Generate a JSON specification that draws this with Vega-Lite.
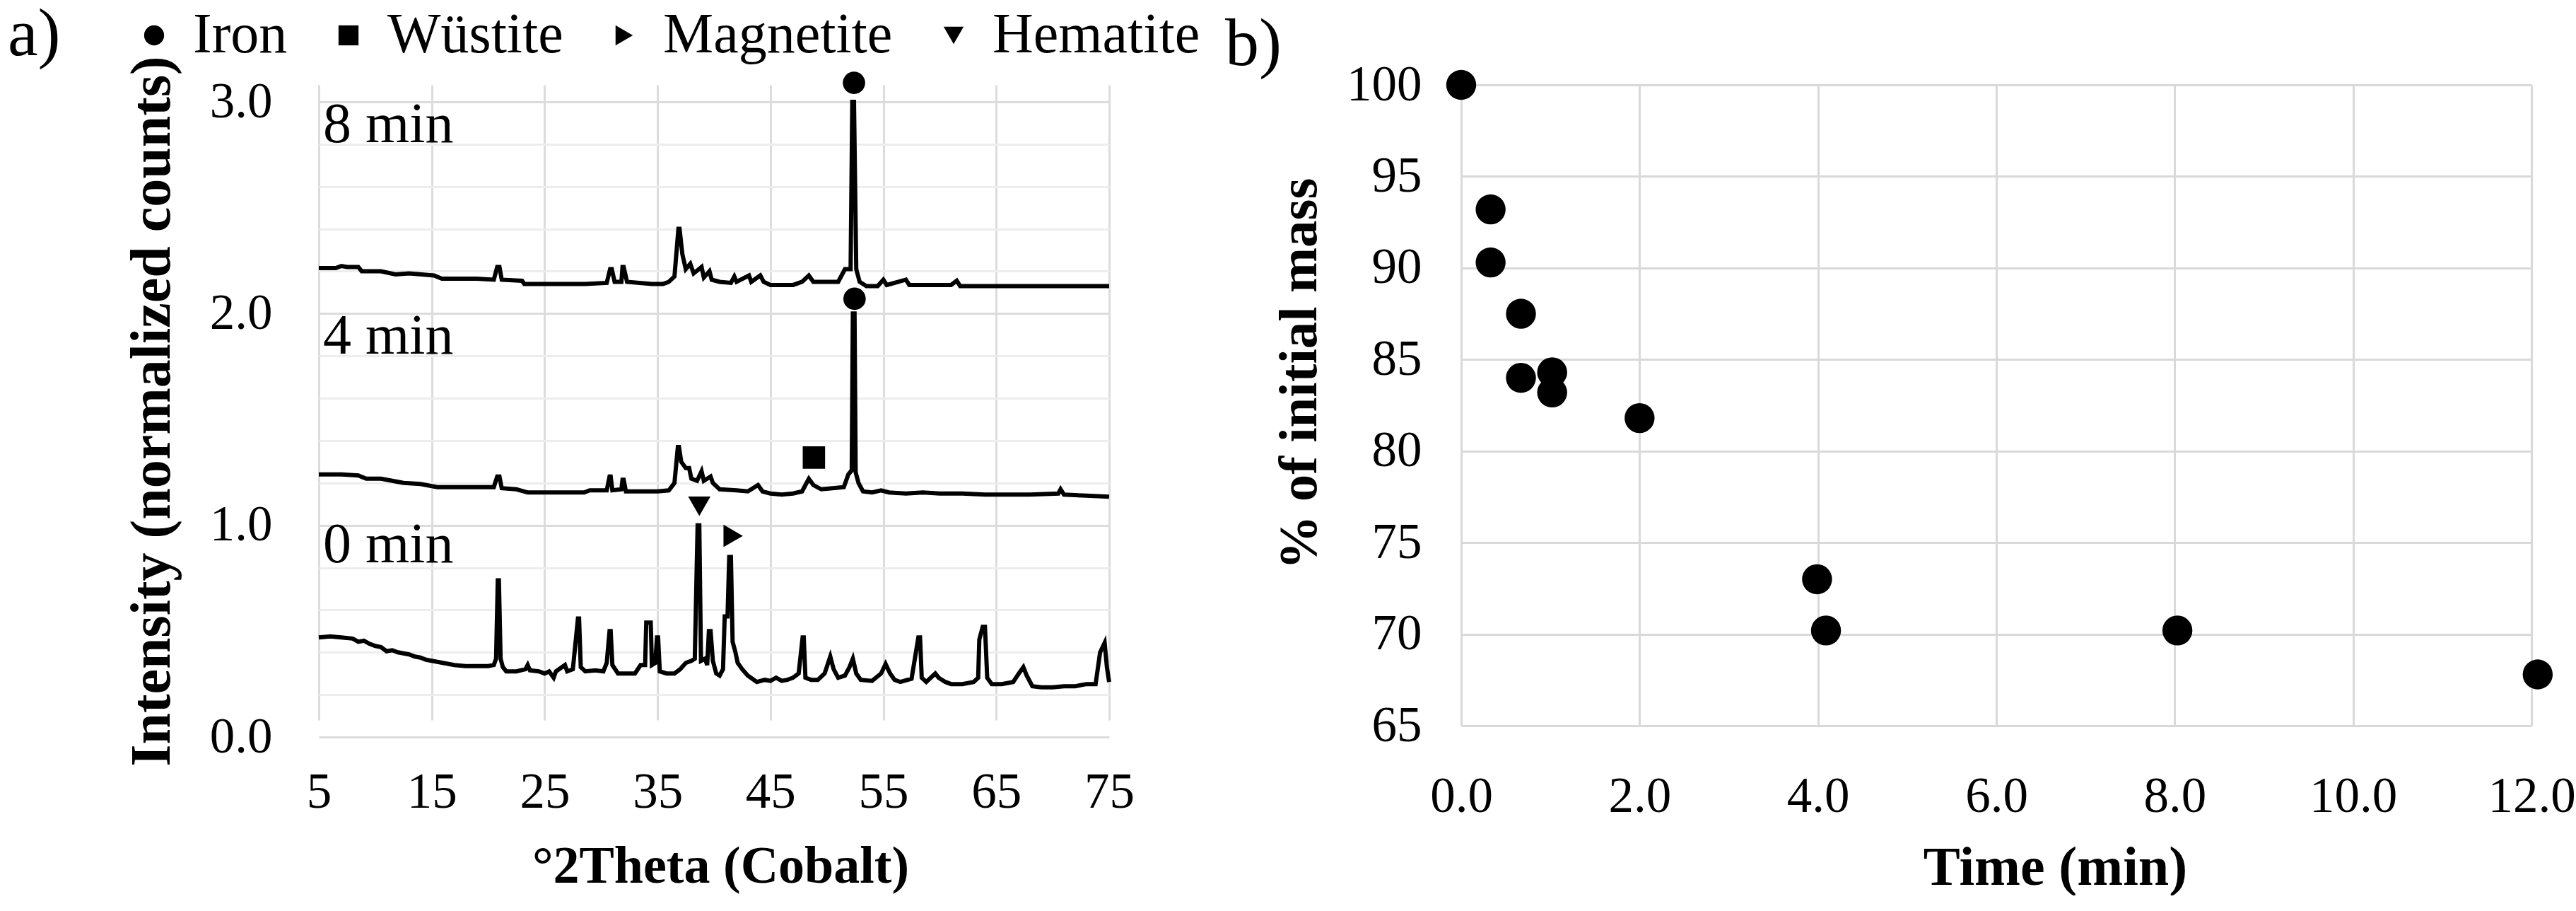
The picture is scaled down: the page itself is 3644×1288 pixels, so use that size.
{
  "$schema": "https://vega.github.io/schema/vega-lite/v6.json",
  "background": "white",
  "padding": {"left": 11, "top": 0, "right": 0, "bottom": 0},
  "spacing": 128,
  "config": {
    "view": {"stroke": null},
    "font": "Liberation Serif",
    "axis": {"labelColor": "black", "titleColor": "black", "labelFont": "Liberation Serif", "titleFont": "Liberation Serif", "ticks": false, "tickSize": 0, "domain": false, "labelFontSize": 71, "titleFontSize": 74, "titleFontWeight": "bold", "gridColor": "#d9d9d9", "gridWidth": 3, "labelOverlap": false, "labelFlush": false, "labelBound": false}
  },
  "datasets": {
    "xrd": [
      {"s":"0 min","x":5.0,"y":0.47},{"s":"0 min","x":6.0,"y":0.475},{"s":"0 min","x":7.0,"y":0.47},{"s":"0 min","x":8.0,"y":0.465},{"s":"0 min","x":8.5,"y":0.45},{"s":"0 min","x":9.0,"y":0.455},{"s":"0 min","x":9.5,"y":0.44},{"s":"0 min","x":10.0,"y":0.43},{"s":"0 min","x":10.5,"y":0.425},{"s":"0 min","x":11.0,"y":0.405},{"s":"0 min","x":11.5,"y":0.41},{"s":"0 min","x":12.0,"y":0.4},{"s":"0 min","x":12.5,"y":0.395},{"s":"0 min","x":13.0,"y":0.39},{"s":"0 min","x":13.5,"y":0.38},{"s":"0 min","x":14.0,"y":0.375},{"s":"0 min","x":14.5,"y":0.365},{"s":"0 min","x":15.0,"y":0.36},{"s":"0 min","x":15.5,"y":0.355},{"s":"0 min","x":16.0,"y":0.35},{"s":"0 min","x":17.0,"y":0.34},{"s":"0 min","x":18.0,"y":0.335},{"s":"0 min","x":19.0,"y":0.335},{"s":"0 min","x":20.0,"y":0.335},{"s":"0 min","x":20.5,"y":0.34},{"s":"0 min","x":20.7,"y":0.37},{"s":"0 min","x":20.85,"y":0.74},{"s":"0 min","x":20.95,"y":0.74},{"s":"0 min","x":21.1,"y":0.37},{"s":"0 min","x":21.3,"y":0.33},{"s":"0 min","x":21.6,"y":0.31},{"s":"0 min","x":22.5,"y":0.31},{"s":"0 min","x":23.3,"y":0.32},{"s":"0 min","x":23.5,"y":0.34},{"s":"0 min","x":23.7,"y":0.315},{"s":"0 min","x":24.5,"y":0.31},{"s":"0 min","x":25.0,"y":0.3},{"s":"0 min","x":25.4,"y":0.31},{"s":"0 min","x":25.8,"y":0.28},{"s":"0 min","x":26.0,"y":0.31},{"s":"0 min","x":26.8,"y":0.34},{"s":"0 min","x":27.0,"y":0.31},{"s":"0 min","x":27.5,"y":0.32},{"s":"0 min","x":27.95,"y":0.56},{"s":"0 min","x":28.05,"y":0.56},{"s":"0 min","x":28.2,"y":0.33},{"s":"0 min","x":28.6,"y":0.31},{"s":"0 min","x":29.5,"y":0.315},{"s":"0 min","x":30.2,"y":0.31},{"s":"0 min","x":30.5,"y":0.35},{"s":"0 min","x":30.75,"y":0.5},{"s":"0 min","x":30.85,"y":0.5},{"s":"0 min","x":31.0,"y":0.34},{"s":"0 min","x":31.5,"y":0.3},{"s":"0 min","x":32.5,"y":0.3},{"s":"0 min","x":33.0,"y":0.3},{"s":"0 min","x":33.5,"y":0.34},{"s":"0 min","x":33.9,"y":0.34},{"s":"0 min","x":34.0,"y":0.54},{"s":"0 min","x":34.4,"y":0.54},{"s":"0 min","x":34.5,"y":0.34},{"s":"0 min","x":34.8,"y":0.35},{"s":"0 min","x":34.95,"y":0.47},{"s":"0 min","x":35.05,"y":0.47},{"s":"0 min","x":35.2,"y":0.31},{"s":"0 min","x":35.8,"y":0.3},{"s":"0 min","x":36.5,"y":0.3},{"s":"0 min","x":37.0,"y":0.32},{"s":"0 min","x":37.5,"y":0.35},{"s":"0 min","x":38.0,"y":0.36},{"s":"0 min","x":38.3,"y":0.37},{"s":"0 min","x":38.55,"y":1.0},{"s":"0 min","x":38.7,"y":1.0},{"s":"0 min","x":38.85,"y":0.36},{"s":"0 min","x":39.2,"y":0.37},{"s":"0 min","x":39.4,"y":0.34},{"s":"0 min","x":39.55,"y":0.5},{"s":"0 min","x":39.7,"y":0.5},{"s":"0 min","x":39.9,"y":0.36},{"s":"0 min","x":40.2,"y":0.3},{"s":"0 min","x":40.5,"y":0.29},{"s":"0 min","x":40.8,"y":0.32},{"s":"0 min","x":40.95,"y":0.57},{"s":"0 min","x":41.2,"y":0.57},{"s":"0 min","x":41.35,"y":0.85},{"s":"0 min","x":41.5,"y":0.85},{"s":"0 min","x":41.65,"y":0.45},{"s":"0 min","x":41.9,"y":0.4},{"s":"0 min","x":42.1,"y":0.35},{"s":"0 min","x":42.5,"y":0.32},{"s":"0 min","x":43.0,"y":0.29},{"s":"0 min","x":43.8,"y":0.26},{"s":"0 min","x":44.5,"y":0.27},{"s":"0 min","x":45.0,"y":0.265},{"s":"0 min","x":45.5,"y":0.28},{"s":"0 min","x":46.0,"y":0.265},{"s":"0 min","x":46.5,"y":0.27},{"s":"0 min","x":47.0,"y":0.28},{"s":"0 min","x":47.5,"y":0.3},{"s":"0 min","x":47.85,"y":0.47},{"s":"0 min","x":47.95,"y":0.47},{"s":"0 min","x":48.1,"y":0.28},{"s":"0 min","x":48.6,"y":0.27},{"s":"0 min","x":49.2,"y":0.27},{"s":"0 min","x":49.8,"y":0.3},{"s":"0 min","x":50.3,"y":0.38},{"s":"0 min","x":50.6,"y":0.32},{"s":"0 min","x":51.0,"y":0.28},{"s":"0 min","x":51.6,"y":0.29},{"s":"0 min","x":52.0,"y":0.33},{"s":"0 min","x":52.3,"y":0.37},{"s":"0 min","x":52.6,"y":0.3},{"s":"0 min","x":53.0,"y":0.27},{"s":"0 min","x":54.0,"y":0.265},{"s":"0 min","x":54.8,"y":0.3},{"s":"0 min","x":55.2,"y":0.345},{"s":"0 min","x":55.6,"y":0.3},{"s":"0 min","x":56.0,"y":0.27},{"s":"0 min","x":56.5,"y":0.26},{"s":"0 min","x":57.5,"y":0.275},{"s":"0 min","x":58.1,"y":0.47},{"s":"0 min","x":58.25,"y":0.47},{"s":"0 min","x":58.4,"y":0.28},{"s":"0 min","x":58.8,"y":0.26},{"s":"0 min","x":59.6,"y":0.3},{"s":"0 min","x":59.9,"y":0.28},{"s":"0 min","x":60.5,"y":0.26},{"s":"0 min","x":61.0,"y":0.25},{"s":"0 min","x":62.0,"y":0.25},{"s":"0 min","x":63.0,"y":0.26},{"s":"0 min","x":63.4,"y":0.28},{"s":"0 min","x":63.5,"y":0.46},{"s":"0 min","x":63.8,"y":0.52},{"s":"0 min","x":64.0,"y":0.52},{"s":"0 min","x":64.2,"y":0.28},{"s":"0 min","x":64.6,"y":0.25},{"s":"0 min","x":65.5,"y":0.25},{"s":"0 min","x":66.5,"y":0.26},{"s":"0 min","x":67.0,"y":0.3},{"s":"0 min","x":67.4,"y":0.33},{"s":"0 min","x":67.7,"y":0.29},{"s":"0 min","x":68.2,"y":0.24},{"s":"0 min","x":69.0,"y":0.235},{"s":"0 min","x":70.0,"y":0.235},{"s":"0 min","x":71.0,"y":0.24},{"s":"0 min","x":72.0,"y":0.24},{"s":"0 min","x":73.0,"y":0.25},{"s":"0 min","x":73.8,"y":0.25},{"s":"0 min","x":74.2,"y":0.4},{"s":"0 min","x":74.6,"y":0.445},{"s":"0 min","x":74.8,"y":0.33},{"s":"0 min","x":75.0,"y":0.26},
      {"s":"4 min","x":5.0,"y":1.24},{"s":"4 min","x":7.0,"y":1.24},{"s":"4 min","x":8.5,"y":1.235},{"s":"4 min","x":9.2,"y":1.22},{"s":"4 min","x":10.5,"y":1.22},{"s":"4 min","x":11.5,"y":1.21},{"s":"4 min","x":12.5,"y":1.2},{"s":"4 min","x":14.0,"y":1.195},{"s":"4 min","x":15.5,"y":1.18},{"s":"4 min","x":17.0,"y":1.18},{"s":"4 min","x":19.0,"y":1.18},{"s":"4 min","x":20.5,"y":1.18},{"s":"4 min","x":20.8,"y":1.23},{"s":"4 min","x":21.0,"y":1.23},{"s":"4 min","x":21.2,"y":1.175},{"s":"4 min","x":22.5,"y":1.17},{"s":"4 min","x":23.5,"y":1.155},{"s":"4 min","x":25.0,"y":1.155},{"s":"4 min","x":27.0,"y":1.155},{"s":"4 min","x":28.5,"y":1.155},{"s":"4 min","x":29.0,"y":1.165},{"s":"4 min","x":30.5,"y":1.165},{"s":"4 min","x":30.75,"y":1.23},{"s":"4 min","x":30.85,"y":1.23},{"s":"4 min","x":31.0,"y":1.165},{"s":"4 min","x":31.8,"y":1.17},{"s":"4 min","x":31.9,"y":1.215},{"s":"4 min","x":32.0,"y":1.215},{"s":"4 min","x":32.2,"y":1.16},{"s":"4 min","x":33.5,"y":1.16},{"s":"4 min","x":35.0,"y":1.16},{"s":"4 min","x":36.0,"y":1.165},{"s":"4 min","x":36.5,"y":1.2},{"s":"4 min","x":36.8,"y":1.37},{"s":"4 min","x":36.9,"y":1.37},{"s":"4 min","x":37.1,"y":1.3},{"s":"4 min","x":37.5,"y":1.27},{"s":"4 min","x":37.8,"y":1.27},{"s":"4 min","x":38.0,"y":1.22},{"s":"4 min","x":38.5,"y":1.21},{"s":"4 min","x":38.9,"y":1.255},{"s":"4 min","x":39.1,"y":1.21},{"s":"4 min","x":39.7,"y":1.23},{"s":"4 min","x":39.9,"y":1.2},{"s":"4 min","x":40.5,"y":1.17},{"s":"4 min","x":42.0,"y":1.165},{"s":"4 min","x":43.0,"y":1.16},{"s":"4 min","x":43.9,"y":1.19},{"s":"4 min","x":44.3,"y":1.16},{"s":"4 min","x":45.0,"y":1.15},{"s":"4 min","x":46.0,"y":1.145},{"s":"4 min","x":47.0,"y":1.15},{"s":"4 min","x":47.8,"y":1.16},{"s":"4 min","x":48.4,"y":1.22},{"s":"4 min","x":48.8,"y":1.19},{"s":"4 min","x":49.5,"y":1.17},{"s":"4 min","x":50.5,"y":1.175},{"s":"4 min","x":51.5,"y":1.18},{"s":"4 min","x":51.9,"y":1.24},{"s":"4 min","x":52.2,"y":1.26},{"s":"4 min","x":52.3,"y":2.0},{"s":"4 min","x":52.45,"y":2.0},{"s":"4 min","x":52.55,"y":1.25},{"s":"4 min","x":52.8,"y":1.2},{"s":"4 min","x":53.2,"y":1.16},{"s":"4 min","x":54.0,"y":1.155},{"s":"4 min","x":54.8,"y":1.165},{"s":"4 min","x":55.5,"y":1.155},{"s":"4 min","x":57.0,"y":1.15},{"s":"4 min","x":58.5,"y":1.155},{"s":"4 min","x":60.0,"y":1.15},{"s":"4 min","x":62.0,"y":1.15},{"s":"4 min","x":64.0,"y":1.145},{"s":"4 min","x":66.0,"y":1.145},{"s":"4 min","x":68.0,"y":1.145},{"s":"4 min","x":70.5,"y":1.15},{"s":"4 min","x":70.7,"y":1.17},{"s":"4 min","x":71.0,"y":1.145},{"s":"4 min","x":73.0,"y":1.14},{"s":"4 min","x":75.0,"y":1.135},
      {"s":"8 min","x":5.0,"y":2.215},{"s":"8 min","x":6.5,"y":2.215},{"s":"8 min","x":7.0,"y":2.225},{"s":"8 min","x":7.5,"y":2.22},{"s":"8 min","x":8.5,"y":2.22},{"s":"8 min","x":8.8,"y":2.2},{"s":"8 min","x":10.5,"y":2.2},{"s":"8 min","x":11.8,"y":2.185},{"s":"8 min","x":13.0,"y":2.19},{"s":"8 min","x":15.2,"y":2.18},{"s":"8 min","x":15.9,"y":2.165},{"s":"8 min","x":19.0,"y":2.165},{"s":"8 min","x":20.5,"y":2.16},{"s":"8 min","x":20.8,"y":2.22},{"s":"8 min","x":21.0,"y":2.22},{"s":"8 min","x":21.2,"y":2.16},{"s":"8 min","x":23.0,"y":2.155},{"s":"8 min","x":23.2,"y":2.14},{"s":"8 min","x":28.6,"y":2.14},{"s":"8 min","x":30.5,"y":2.145},{"s":"8 min","x":30.8,"y":2.21},{"s":"8 min","x":30.95,"y":2.21},{"s":"8 min","x":31.2,"y":2.15},{"s":"8 min","x":31.8,"y":2.15},{"s":"8 min","x":31.9,"y":2.22},{"s":"8 min","x":32.0,"y":2.22},{"s":"8 min","x":32.3,"y":2.15},{"s":"8 min","x":34.5,"y":2.14},{"s":"8 min","x":35.5,"y":2.14},{"s":"8 min","x":36.0,"y":2.15},{"s":"8 min","x":36.5,"y":2.175},{"s":"8 min","x":36.85,"y":2.4},{"s":"8 min","x":36.95,"y":2.4},{"s":"8 min","x":37.2,"y":2.28},{"s":"8 min","x":37.5,"y":2.21},{"s":"8 min","x":37.9,"y":2.235},{"s":"8 min","x":38.2,"y":2.19},{"s":"8 min","x":38.9,"y":2.22},{"s":"8 min","x":39.1,"y":2.17},{"s":"8 min","x":39.6,"y":2.2},{"s":"8 min","x":39.8,"y":2.16},{"s":"8 min","x":40.5,"y":2.15},{"s":"8 min","x":41.5,"y":2.145},{"s":"8 min","x":41.8,"y":2.175},{"s":"8 min","x":42.0,"y":2.15},{"s":"8 min","x":43.1,"y":2.18},{"s":"8 min","x":43.3,"y":2.15},{"s":"8 min","x":44.1,"y":2.18},{"s":"8 min","x":44.4,"y":2.15},{"s":"8 min","x":45.0,"y":2.135},{"s":"8 min","x":47.0,"y":2.135},{"s":"8 min","x":47.8,"y":2.15},{"s":"8 min","x":48.4,"y":2.18},{"s":"8 min","x":48.8,"y":2.15},{"s":"8 min","x":51.0,"y":2.15},{"s":"8 min","x":51.6,"y":2.21},{"s":"8 min","x":52.1,"y":2.21},{"s":"8 min","x":52.25,"y":3.0},{"s":"8 min","x":52.4,"y":3.0},{"s":"8 min","x":52.6,"y":2.21},{"s":"8 min","x":52.9,"y":2.15},{"s":"8 min","x":53.5,"y":2.13},{"s":"8 min","x":54.5,"y":2.13},{"s":"8 min","x":55.0,"y":2.16},{"s":"8 min","x":55.3,"y":2.135},{"s":"8 min","x":57.0,"y":2.16},{"s":"8 min","x":57.3,"y":2.135},{"s":"8 min","x":61.0,"y":2.135},{"s":"8 min","x":61.5,"y":2.155},{"s":"8 min","x":61.8,"y":2.13},{"s":"8 min","x":65.0,"y":2.13},{"s":"8 min","x":70.0,"y":2.13},{"s":"8 min","x":75.0,"y":2.13}
    ],
    "markers": [
      {"phase":"Iron","x":52.4,"y":3.09},
      {"phase":"Iron","x":52.45,"y":2.07},
      {"phase":"Wüstite","x":48.85,"y":1.32},
      {"phase":"Magnetite","x":41.7,"y":0.95},
      {"phase":"Hematite","x":38.7,"y":1.09}
    ],
    "labels": [
      {"label":"8 min","x":5,"y":2.89},
      {"label":"4 min","x":5,"y":1.89},
      {"label":"0 min","x":5,"y":0.905}
    ],
    "mass": [
      {"time":0.0,"mass":100.0},
      {"time":0.33,"mass":93.2},
      {"time":0.33,"mass":90.3},
      {"time":0.67,"mass":87.5},
      {"time":0.67,"mass":84.0},
      {"time":1.02,"mass":84.3},
      {"time":1.02,"mass":83.2},
      {"time":2.0,"mass":81.8},
      {"time":3.99,"mass":73.0},
      {"time":4.09,"mass":70.2},
      {"time":8.03,"mass":70.2},
      {"time":12.07,"mass":67.8}
    ]
  },
  "hconcat": [
    {
      "width": 1118,
      "height": 922,
      "title": {"text": "a)", "anchor": "start", "frame": "group", "dx": -440, "dy": 5, "offset": -14, "fontSize": 96, "fontWeight": "normal", "font": "Liberation Serif", "color": "black"},
      "layer": [
        {
          "data": {"name": "xrd"},
          "mark": {"type": "line", "color": "black", "strokeWidth": 6, "strokeJoin": "miter"},
          "encoding": {
            "x": {"field": "x", "type": "quantitative", "scale": {"domain": [5, 75], "nice": false, "zero": false}, "title": "°2Theta (Cobalt)",
              "axis": {"values": [5, 15, 25, 35, 45, 55, 65, 75], "labelPadding": 43, "titlePadding": 34, "gridColor": "#dcdcdc", "gridDash": [898, 60], "titleX": 568}},
            "y": {"field": "y", "type": "quantitative", "scale": {"domain": [0, 3.0802], "nice": false}, "title": "Intensity (normalized counts)",
              "axis": {"values": [0, 0.1, 0.2, 0.3, 0.4, 0.5, 0.6, 0.7, 0.8, 0.9, 1.0, 1.1, 1.2, 1.3, 1.4, 1.5, 1.6, 1.7, 1.8, 1.9, 2.0, 2.1, 2.2, 2.3, 2.4, 2.5, 2.6, 2.7, 2.8, 2.9, 3.0],
                "labelExpr": "round(datum.value * 10) % 5 == 0 ? format(datum.value, '.1f') : ''",
                "gridColor": {"condition": {"test": "round(datum.value * 10) % 5 == 0", "value": "#dcdcdc"}, "value": "#ededed"},
                "labelPadding": 66, "titlePadding": 40, "titleFontSize": 80}},
            "detail": {"field": "s", "type": "nominal"}
          }
        },
        {
          "data": {"name": "markers"},
          "mark": {"type": "point", "filled": true, "color": "black", "opacity": 1, "size": 1000},
          "encoding": {
            "x": {"field": "x", "type": "quantitative"},
            "y": {"field": "y", "type": "quantitative"},
            "shape": {"field": "phase", "type": "nominal",
              "scale": {"domain": ["Iron", "Wüstite", "Magnetite", "Hematite"], "range": ["circle", "square", "triangle-right", "triangle-down"]},
              "legend": {"orient": "none", "legendX": -273, "legendY": -110, "direction": "horizontal", "title": null, "labelFontSize": 80, "labelFont": "Liberation Serif", "labelColor": "black", "symbolSize": 800, "symbolFillColor": "black", "symbolStrokeWidth": 0, "labelOffset": 15, "columnPadding": 46, "padding": 0, "labelLimit": 1000}}
          }
        },
        {
          "data": {"name": "labels"},
          "mark": {"type": "text", "align": "left", "baseline": "middle", "fontSize": 80, "dx": 6, "color": "black", "font": "Liberation Serif"},
          "encoding": {
            "x": {"field": "x", "type": "quantitative"},
            "y": {"field": "y", "type": "quantitative"},
            "text": {"field": "label"}
          }
        }
      ]
    },
    {
      "width": 1514,
      "height": 906,
      "title": {"text": "b)", "anchor": "start", "frame": "group", "dx": -334, "offset": -28, "fontSize": 96, "fontWeight": "normal", "font": "Liberation Serif", "color": "black"},
      "data": {"name": "mass"},
      "mark": {"type": "circle", "size": 1800, "color": "black", "opacity": 1},
      "encoding": {
        "x": {"field": "time", "type": "quantitative", "scale": {"domain": [0, 12], "nice": false}, "title": "Time (min)",
          "axis": {"values": [0, 2, 4, 6, 8, 10, 12], "format": ".1f", "labelPadding": 65, "titlePadding": 27, "titleX": 840, "titleFontSize": 78}},
        "y": {"field": "mass", "type": "quantitative", "scale": {"domain": [65, 100], "nice": false, "zero": false}, "title": "% of initial mass",
          "axis": {"values": [65, 70, 75, 80, 85, 90, 95, 100], "labelPadding": 56, "titlePadding": 27, "titleY": 408, "titleFontSize": 77}}
      }
    }
  ]
}
